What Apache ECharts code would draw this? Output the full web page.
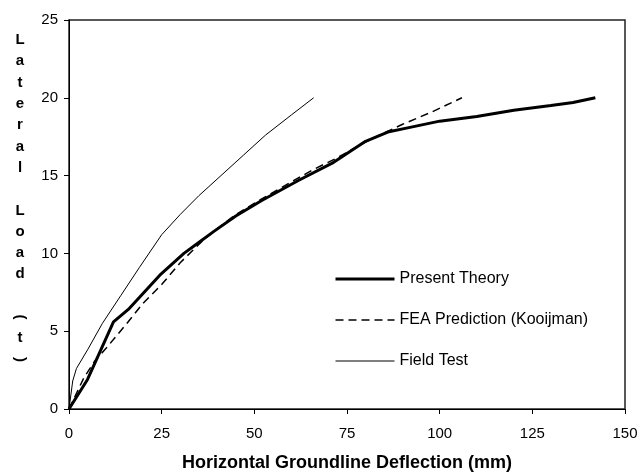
<!DOCTYPE html>
<html>
<head>
<meta charset="utf-8">
<script src="https://cdn.jsdelivr.net/npm/echarts@6/dist/echarts.min.js"></script>
<style>html,body{margin:0;padding:0;background:#fff;}#c{width:641px;height:474px;}</style>
</head>
<body>
<div id="c"></div>
<script>
var xTicks = [0, 25, 50, 75, 100, 125, 150];
var yTicks = [0, 5, 10, 15, 20, 25];

var presentX = [0, 5, 12, 16, 24.5, 31, 35, 39, 45, 52, 62, 71, 80, 86, 92, 100, 110, 120, 130, 136, 142];
var presentY = [0, 1.9, 5.6, 6.4, 8.6, 10, 10.7, 11.4, 12.4, 13.4, 14.7, 15.8, 17.2, 17.8, 18.1, 18.5, 18.8, 19.2, 19.5, 19.7, 20];

var feaX = [0, 4, 7, 10, 15.6, 20, 25, 30, 36, 40, 45, 52, 60, 66, 72, 78, 82, 90, 98, 106];
var feaY = [0, 2, 3.1, 3.9, 5.5, 6.8, 8, 9.4, 10.8, 11.6, 12.5, 13.5, 14.6, 15.4, 16.1, 16.9, 17.4, 18.3, 19.1, 20];

var fieldX = [0, 1, 2, 5, 9, 14, 19, 25, 30, 35, 41, 47, 53, 60, 66];
var fieldY = [0, 1.8, 2.6, 3.8, 5.5, 7.3, 9.1, 11.2, 12.5, 13.7, 15, 16.3, 17.6, 18.9, 20];

var seriesNames = ['Present Theory', 'FEA Prediction (Kooijman)', 'Field Test'];
var xTitle = 'Horizontal Groundline Deflection (mm)';
var yTitle = 'Lateral Load (t)';

function pairs(xs, ys) { return xs.map(function (x, i) { return [x, ys[i]]; }); }

var FONT = '"Liberation Sans", Arial, sans-serif';
var widths = [3, 1.5, 1];
var dashes = ['solid', [8, 5], 'solid'];

// vertical stacked y-axis title
var yTitleEls = [];
yTitle.split('').forEach(function (ch, i) {
  if (ch === ' ') return;
  var rot = 0;
  if (ch === '(' || ch === ')') rot = -Math.PI / 2;
  yTitleEls.push({
    type: 'text',
    x: 20, y: 40 + i * 21.3,
    rotation: rot,
    style: {
      text: ch, fill: '#000',
      font: 'bold 15px ' + FONT,
      textAlign: 'center', textVerticalAlign: 'middle'
    }
  });
});

var chart = echarts.init(document.getElementById('c'), null, { renderer: 'canvas' });
chart.setOption({
  animation: false,
  backgroundColor: '#fff',
  textStyle: { fontFamily: FONT },
  grid: { left: 69, right: 16, top: 20, bottom: 65, outerBoundsMode: 'none', containLabel: false,
          show: true, borderColor: '#222', borderWidth: 1.5, backgroundColor: 'transparent' },
  xAxis: {
    type: 'value', min: xTicks[0], max: xTicks[xTicks.length - 1], interval: 25,
    axisLine: { lineStyle: { color: '#000', width: 1 } },
    axisTick: { show: true, length: 5, lineStyle: { color: '#000' } },
    axisLabel: { color: '#000', fontSize: 15, fontFamily: FONT, margin: 17 },
    splitLine: { show: false },
    name: xTitle, nameLocation: 'middle', nameGap: 45,
    nameTextStyle: { color: '#000', fontSize: 18, fontWeight: 'bold', fontFamily: FONT }
  },
  yAxis: {
    type: 'value', min: yTicks[0], max: yTicks[yTicks.length - 1], interval: 5,
    axisLine: { show: true, lineStyle: { color: '#000', width: 1 } },
    axisTick: { show: true, length: 5, lineStyle: { color: '#000' } },
    axisLabel: { color: '#000', fontSize: 15, fontFamily: FONT, margin: 11 },
    splitLine: { show: false }
  },
  legend: {
    orient: 'vertical', left: 329, top: 265,
    itemWidth: 59, itemHeight: 18, itemGap: 23,
    itemStyle: { opacity: 0 },
    textStyle: { color: '#000', fontSize: 16, fontFamily: FONT, letterSpacing: -0.4, lineHeight: 18 },
    data: seriesNames.map(function (n, i) {
      return { name: n, lineStyle: { width: widths[i], type: dashes[i], color: '#000' }, itemStyle: { opacity: 0 } };
    })
  },
  graphic: yTitleEls,
  series: [
    { name: seriesNames[0], type: 'line', data: pairs(presentX, presentY), symbol: 'none', color: '#000',
      lineStyle: { color: '#000', width: widths[0] } },
    { name: seriesNames[1], type: 'line', data: pairs(feaX, feaY), symbol: 'none', color: '#000',
      lineStyle: { color: '#000', width: widths[1], type: dashes[1] } },
    { name: seriesNames[2], type: 'line', data: pairs(fieldX, fieldY), symbol: 'none', color: '#000',
      lineStyle: { color: '#000', width: widths[2] } }
  ]
});
</script>
</body>
</html>
